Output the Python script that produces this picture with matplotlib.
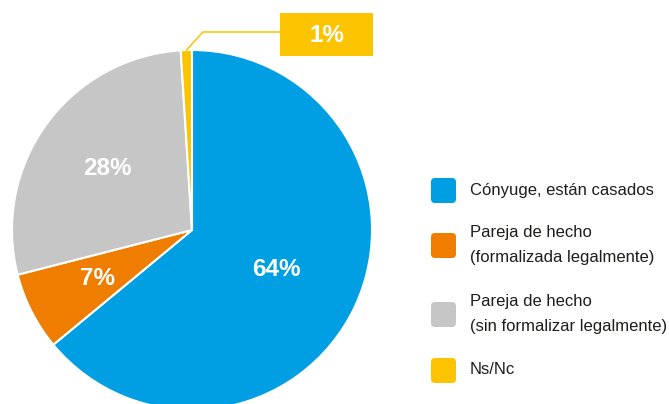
import numpy as np
import matplotlib.pyplot as plt
from matplotlib.patches import FancyBboxPatch, Rectangle

labels = ['Cónyuge, están casados',
          'Pareja de hecho\n(formalizada legalmente)',
          'Pareja de hecho\n(sin formalizar legalmente)',
          'Ns/Nc']
values = [64, 7, 28, 1]
colors = ['#009FE3', '#EE7D00', '#C6C6C6', '#FCC300']

W, H = 669, 404
plt.rcParams['font.family'] = ['Liberation Sans', 'DejaVu Sans']

fig = plt.figure(figsize=(W / 100, H / 100), dpi=100)
ax = fig.add_axes([0, 0, 1, 1])

cx, cy, r = 192, H - 230, 180
wedges, _ = ax.pie(values, colors=colors, startangle=90, counterclock=False,
                   center=(cx, cy), radius=r, frame=True,
                   wedgeprops=dict(edgecolor='white', linewidth=1.5))
ax.set_xlim(0, W)
ax.set_ylim(0, H)
ax.set_aspect('equal')
ax.axis('off')

# percentage labels inside the bigger slices
dists = [0.52, 0.59, 0.58]
for w, v, d in zip(wedges[:3], values[:3], dists):
    mid = np.deg2rad((w.theta1 + w.theta2) / 2)
    ax.text(cx + d * r * np.cos(mid), cy + d * r * np.sin(mid), '%d%%' % v,
            color='white', fontsize=17.5, fontweight='bold',
            ha='center', va='center')

# callout for the tiny slice
w = wedges[3]
mid = np.deg2rad((w.theta1 + w.theta2) / 2)
x0, y0 = cx + r * np.cos(mid), cy + r * np.sin(mid)
ax.plot([x0, 203, 280], [y0, H - 32, H - 32], color=colors[3], lw=1.1)
ax.add_patch(Rectangle((280, H - 56), 93, 43, color=colors[3], lw=0))
ax.text(326.5, H - 35, '%d%%' % values[3], color='white', fontsize=17.5,
        fontweight='bold', ha='center', va='center')

# legend
ys = [190, 245, 314, 370]
for lab, col, y in zip(labels, colors, ys):
    ax.add_patch(FancyBboxPatch((431 + 4, H - y - 13 + 4), 25 - 8, 25 - 8,
                                boxstyle='round,pad=4', color=col, lw=0))
    ax.text(470, H - y, lab, fontsize=12, color='#1d1d1b',
            ha='left', va='center', linespacing=1.78)

fig.savefig('out.png', dpi=100)
